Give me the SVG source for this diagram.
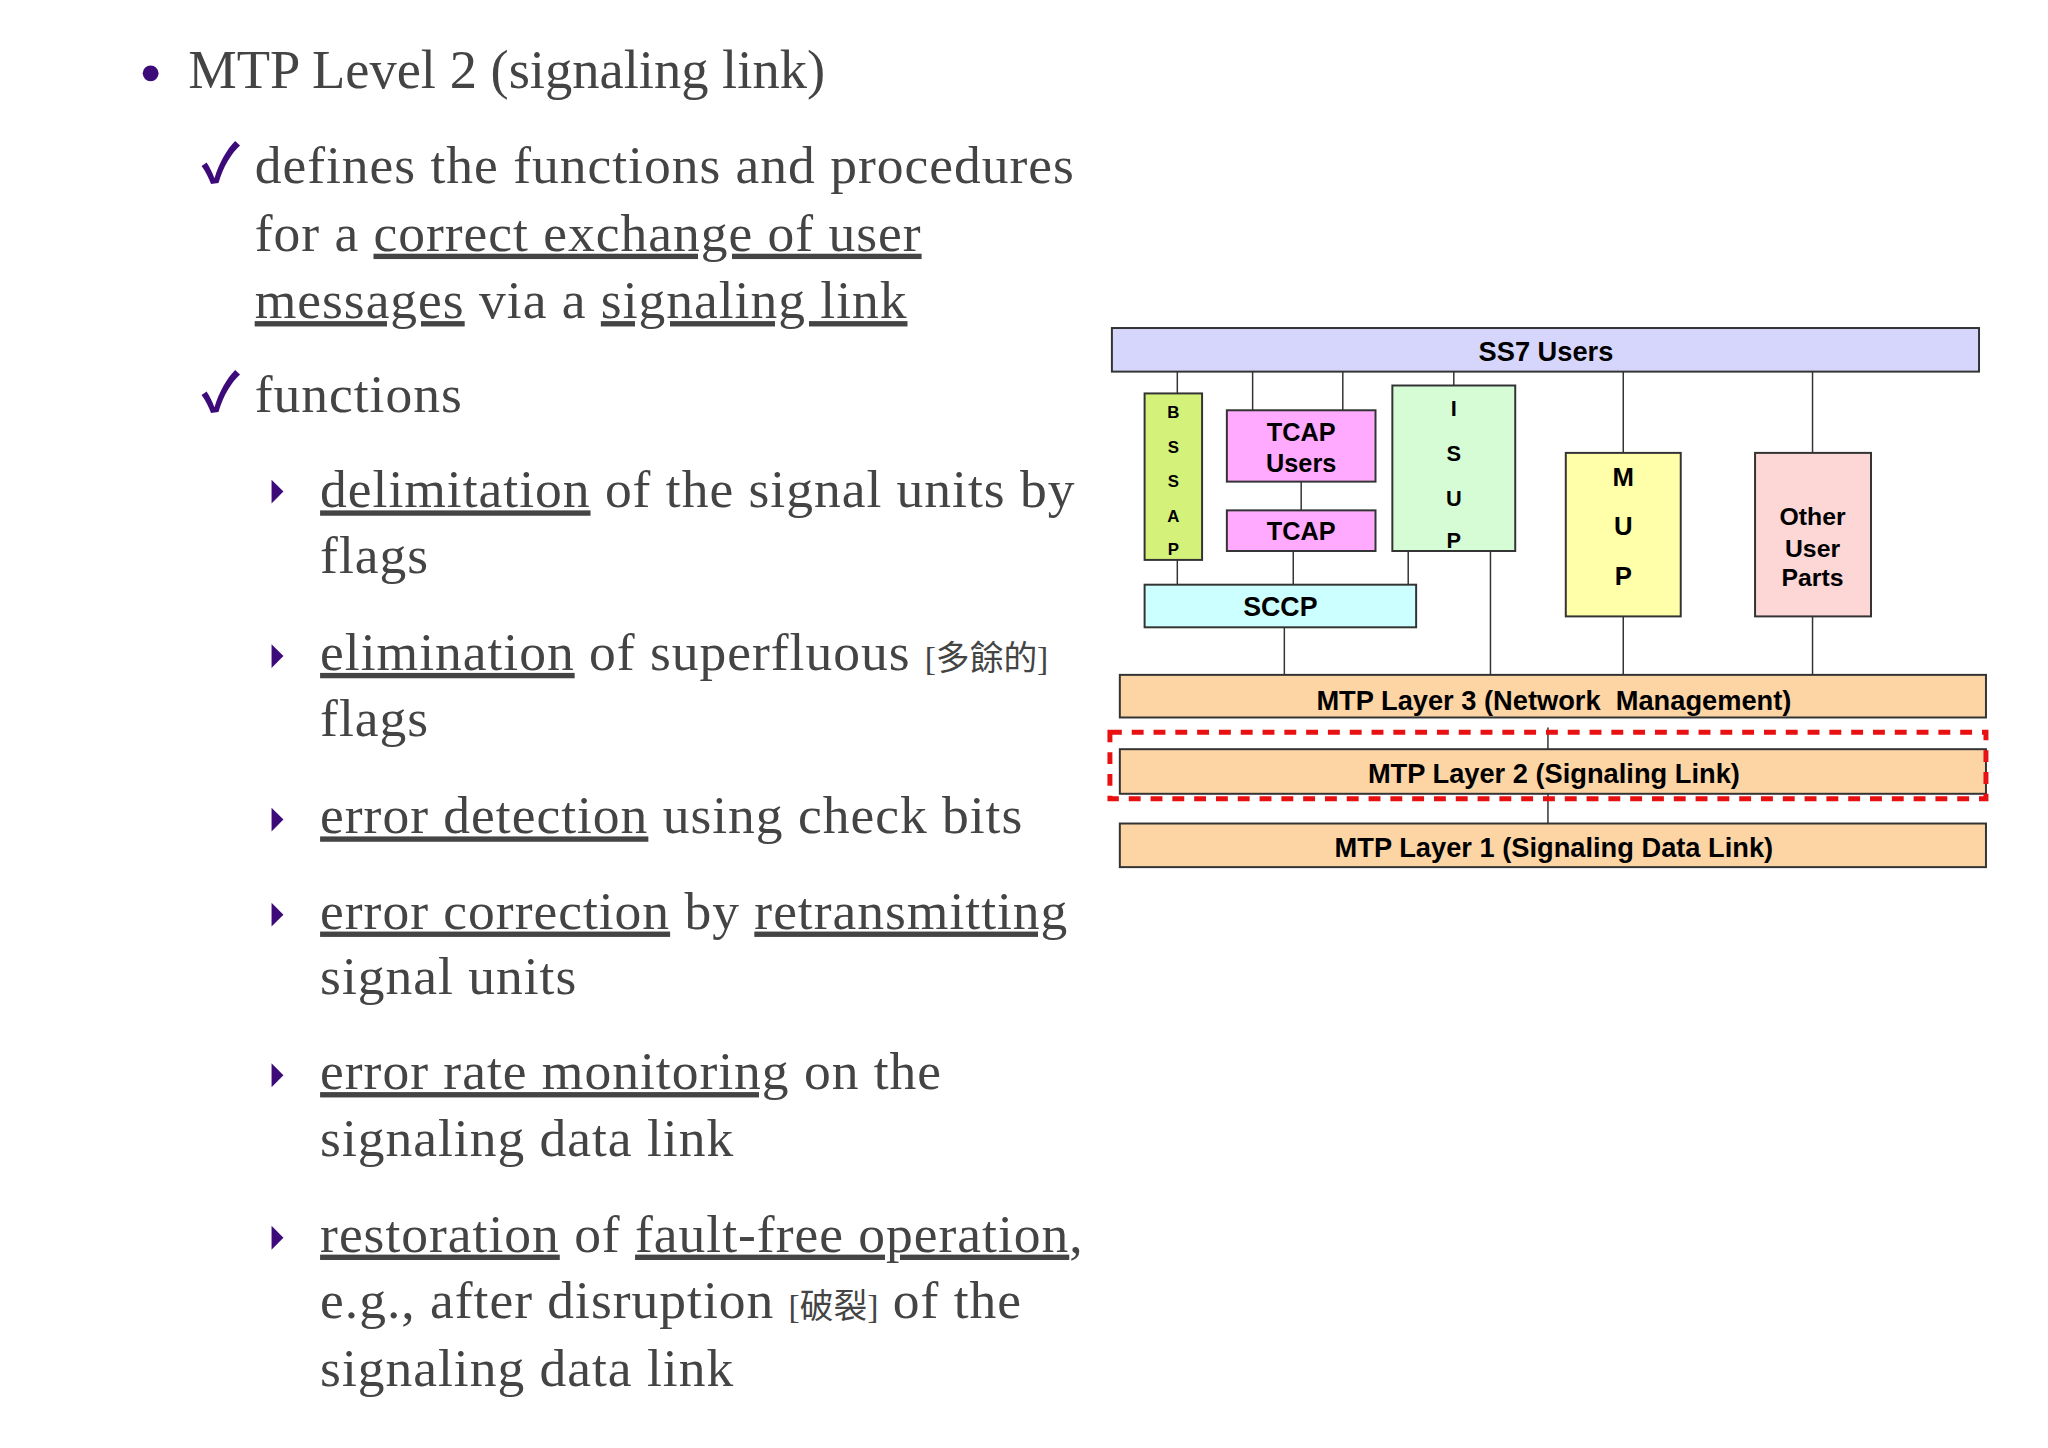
<svg xmlns="http://www.w3.org/2000/svg" width="2048" height="1448" viewBox="0 0 2048 1448">
<style>
.t{font-family:"Liberation Serif","Noto Sans CJK TC",serif;font-size:54px;letter-spacing:1px;fill:#444}
.u{text-decoration:underline}
.cj{font-size:34px;letter-spacing:0}
.p{fill:#3d0a7a}
.ck{font-weight:bold}
.b{stroke:#333;stroke-width:2}
.l{stroke:#333;stroke-width:1.5;fill:none}
.s{font-family:"Liberation Sans",Arial,sans-serif;font-weight:bold;fill:#000;text-anchor:middle}
</style>
<rect width="2048" height="1448" fill="#fff"/>
<g transform="scale(0.991)">
<g id="text">
<circle class="p" cx="152" cy="74" r="8"/>
<text class="t" x="190" y="89" style="font-size:55px;letter-spacing:0">MTP Level 2 (signaling link)</text>
<text class="t p ck" x="203" y="185">✓</text>
<text class="t" x="257" y="185">defines the functions and procedures</text>
<text class="t" x="257" y="253">for a <tspan class="u">correct exchange of user</tspan></text>
<text class="t" x="257" y="321"><tspan class="u">messages</tspan> via a <tspan class="u">signaling link</tspan></text>
<text class="t p ck" x="203" y="416">✓</text>
<text class="t" x="257" y="416">functions</text>
<g class="p">
<polygon points="274,484 286,496 274,508"/>
<polygon points="274,650 286,662 274,674"/>
<polygon points="274,815 286,827 274,839"/>
<polygon points="274,911 286,923 274,935"/>
<polygon points="274,1073 286,1085 274,1097"/>
<polygon points="274,1237 286,1249 274,1261"/>
</g>
<text class="t" x="323" y="512"><tspan class="u">delimitation</tspan> of the signal units by</text>
<text class="t" x="323" y="578">flags</text>
<text class="t" x="323" y="676"><tspan class="u">elimination</tspan> of superfluous <tspan class="cj">[多餘的]</tspan></text>
<text class="t" x="323" y="743">flags</text>
<text class="t" x="323" y="841"><tspan class="u">error detection</tspan> using check bits</text>
<text class="t" x="323" y="937"><tspan class="u">error correction</tspan> by <tspan class="u">retransmitting</tspan></text>
<text class="t" x="323" y="1003">signal units</text>
<text class="t" x="323" y="1099"><tspan class="u">error rate monitoring</tspan> on the</text>
<text class="t" x="323" y="1167">signaling data link</text>
<text class="t" x="323" y="1263"><tspan class="u">restoration</tspan> of <tspan class="u">fault-free operation</tspan>,</text>
<text class="t" x="323" y="1330">e.g., after disruption <tspan class="cj">[破裂]</tspan> of the</text>
<text class="t" x="323" y="1399">signaling data link</text>
</g>
<g id="connectors">
<line class="l" x1="1188" y1="375" x2="1188" y2="397"/>
<line class="l" x1="1264" y1="375" x2="1264" y2="414"/>
<line class="l" x1="1355" y1="375" x2="1355" y2="414"/>
<line class="l" x1="1467" y1="375" x2="1467" y2="409"/>
<line class="l" x1="1638" y1="375" x2="1638" y2="457"/>
<line class="l" x1="1829" y1="375" x2="1829" y2="457"/>
<line class="l" x1="1313" y1="486" x2="1313" y2="515"/>
<line class="l" x1="1188" y1="565" x2="1188" y2="590"/>
<line class="l" x1="1305" y1="556" x2="1305" y2="590"/>
<line class="l" x1="1421" y1="556" x2="1421" y2="590"/>
<line class="l" x1="1296" y1="633" x2="1296" y2="681"/>
<line class="l" x1="1504" y1="556" x2="1504" y2="681"/>
<line class="l" x1="1638" y1="615" x2="1638" y2="681"/>
<line class="l" x1="1829" y1="622" x2="1829" y2="681"/>
<line class="l" x1="1562" y1="734" x2="1562" y2="831"/>
</g>
<g id="ss7"><rect class="b" x="1122" y="331" width="875" height="44" fill="#d6d6fc"/><text class="s" x="1560" y="364" font-size="27.5">SS7 Users</text></g>
<g id="bssap"><rect class="b" x="1155" y="397" width="58" height="168" fill="#d4f27a"/>
<g class="s" font-size="17"><text x="1184" y="422">B</text><text x="1184" y="457">S</text><text x="1184" y="491">S</text><text x="1184" y="527">A</text><text x="1184" y="560">P</text></g></g>
<g id="tcapusers"><rect class="b" x="1238" y="414" width="150" height="72" fill="#ffaaff"/><text class="s" x="1313" y="445" font-size="25.5">TCAP</text><text class="s" x="1313" y="476" font-size="25.5">Users</text></g>
<g id="tcap"><rect class="b" x="1238" y="515" width="150" height="41" fill="#ffaaff"/><text class="s" x="1313" y="545" font-size="25.5">TCAP</text></g>
<g id="isup"><rect class="b" x="1405" y="389" width="124" height="167" fill="#d6fcd6"/>
<g class="s" font-size="22"><text x="1467" y="420">I</text><text x="1467" y="465">S</text><text x="1467" y="511">U</text><text x="1467" y="553">P</text></g></g>
<g id="sccp"><rect class="b" x="1155" y="590" width="274" height="43" fill="#ccffff"/><text class="s" x="1292" y="622" font-size="27">SCCP</text></g>
<g id="mup"><rect class="b" x="1580" y="457" width="116" height="165" fill="#ffffaa"/>
<g class="s" font-size="26"><text x="1638" y="490">M</text><text x="1638" y="540">U</text><text x="1638" y="590">P</text></g></g>
<g id="other"><rect class="b" x="1771" y="457" width="117" height="165" fill="#fdd6d6"/>
<g class="s" font-size="25"><text x="1829" y="530">Other</text><text x="1829" y="562">User</text><text x="1829" y="591">Parts</text></g></g>
<g id="l3"><rect class="b" x="1130" y="681" width="874" height="43" fill="#fdd5a5"/><text class="s" x="1568" y="716" font-size="27.5" xml:space="preserve">MTP Layer 3 (Network  Management)</text></g>
<g id="l2"><rect class="b" x="1130" y="756" width="874" height="45" fill="#fdd5a5"/><text class="s" x="1568" y="790" font-size="27.5">MTP Layer 2 (Signaling Link)</text></g>
<g id="l1"><rect class="b" x="1130" y="831" width="874" height="44" fill="#fdd5a5"/><text class="s" x="1568" y="865" font-size="27.5">MTP Layer 1 (Signaling Data Link)</text></g>
<rect x="1120" y="739" width="884" height="67" fill="none" stroke="#e81010" stroke-width="5" stroke-dasharray="12,10"/>
</g>
</svg>
